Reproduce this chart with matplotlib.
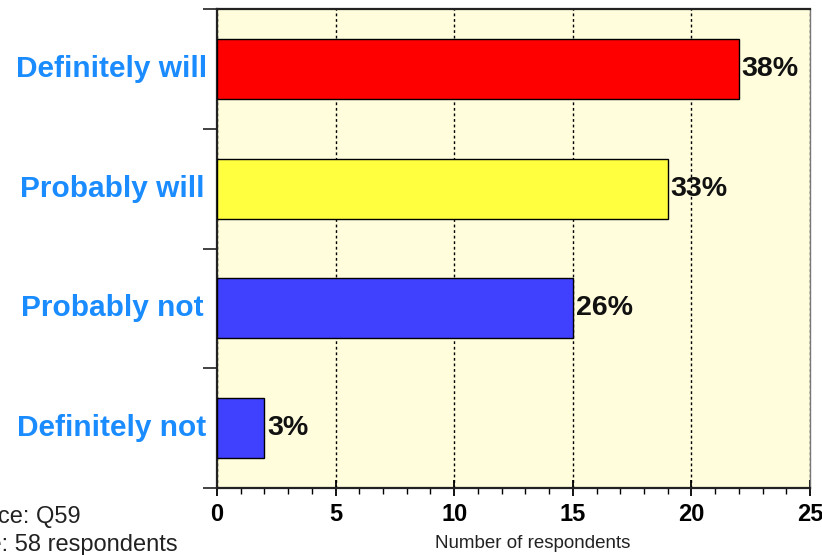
import matplotlib
matplotlib.use('Agg')
import matplotlib.pyplot as plt
from matplotlib.ticker import MultipleLocator, FixedLocator
from matplotlib.transforms import blended_transform_factory

plt.rcParams['font.family'] = ['Liberation Sans', 'DejaVu Sans']

# ── data ──
categories = ['Definitely will', 'Probably will', 'Probably not', 'Definitely not']
counts = [22, 19, 15, 2]
percents = ['38%', '33%', '26%', '3%']
colors = ['#FF0000', '#FFFF40', '#4040FF', '#4040FF']

fig = plt.figure(figsize=(8.22, 5.55), dpi=100)
ax = fig.add_axes([217 / 822, 1 - 488 / 555, (810 - 217) / 822, (488 - 9) / 555])
ax.set_facecolor('#FFFDDC')

ypos = list(range(len(categories)))
ax.barh(ypos, counts, height=0.5, color=colors, edgecolor='black', linewidth=1.0, zorder=3)
for y, c, p in zip(ypos, counts, percents):
    ax.text(c + 0.12, y, p, ha='left', va='center', fontsize=20.5, fontweight='bold',
            color='#111111', zorder=4)

ax.set_xlim(0, 25)
ax.set_ylim(3.5, -0.5)

# category labels centred in the left margin, blue bold
lbl_tr = blended_transform_factory(fig.transFigure, ax.transData)
for y, cat in zip(ypos, categories):
    ax.text(112 / 822, y, cat, ha='center', va='center', fontsize=21.5, fontweight='bold',
            color='#1A8CFF', transform=lbl_tr)

# boundary ticks between categories
ax.yaxis.set_major_locator(FixedLocator([-0.5, 0.5, 1.5, 2.5, 3.5]))
ax.set_yticklabels([])
ax.tick_params(axis='y', direction='out', length=10, width=1.3, color='#333333')

ax.xaxis.set_major_locator(MultipleLocator(5))
ax.xaxis.set_minor_locator(MultipleLocator(1))
ax.tick_params(axis='x', which='major', direction='inout', length=12, width=1.3,
               labelsize=17, pad=5)
ax.tick_params(axis='x', which='minor', direction='out', length=4, width=1.0)
for lab in ax.get_xticklabels():
    lab.set_fontweight('bold')

ax.grid(axis='x', which='major', linestyle=(0, (2, 2)), color='black', linewidth=1.0, zorder=1)

for side in ['left', 'bottom', 'top']:
    ax.spines[side].set_color('#222222')
    ax.spines[side].set_linewidth(1.6)
ax.spines['right'].set_color('#777777')
ax.spines['right'].set_linewidth(1.0)

fig.text(533 / 822, 1 - 543 / 555, 'Number of respondents', ha='center', va='center',
         fontsize=13.5, color='#222222')
fig.text(-52 / 822, 1 - 517 / 555, 'Source: Q59', ha='left', va='center',
         fontsize=17, color='#222222')
fig.text(-52 / 822, 1 - 545 / 555, 'Base: 58 respondents', ha='left', va='center',
         fontsize=17, color='#222222')

fig.savefig('out.png', dpi=100, facecolor='white')
